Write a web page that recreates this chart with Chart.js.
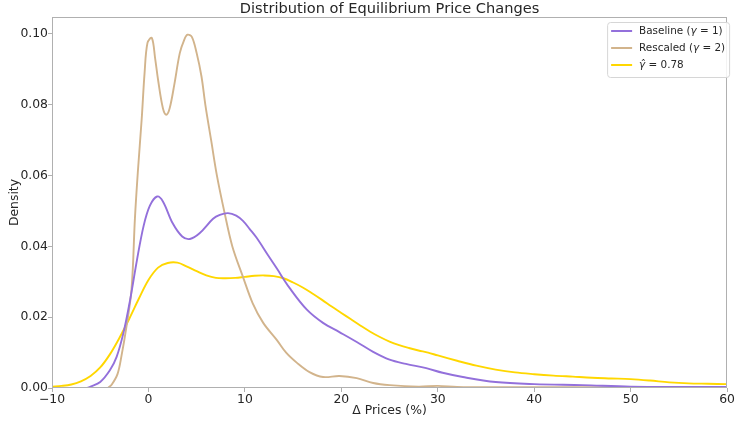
<!DOCTYPE html>
<html>
<head>
<meta charset="utf-8">
<script src="https://cdn.jsdelivr.net/npm/chart.js@4/dist/chart.umd.min.js"></script>
<style>
  html, body { margin: 0; padding: 0; background: #ffffff; }
  canvas { display: block; }
</style>
</head>
<body>
<canvas id="chart" width="735" height="423"></canvas>
<script>
// Kernel density estimates of equilibrium price changes (%), one curve per scenario.
const baselineX = [-6.4, -6, -5, -4, -3.3, -2.6, -1.9, -1.2, -0.5, 0.15, 0.9, 1.5, 2.5, 3.5, 4.3, 5.3, 6.7, 7.4, 8.25, 9.1, 9.8, 10.5, 11.2, 12.4, 13.3, 14.65, 16.4, 18.1, 19.8, 21.6, 23.3, 25, 26.7, 28.8, 30.5, 32.6, 36, 40, 45, 50, 55, 60];
const baselineDensity = [0, 0.0004, 0.0017, 0.005, 0.0088, 0.0155, 0.0249, 0.036, 0.0458, 0.0515, 0.0541, 0.0527, 0.0466, 0.0428, 0.0421, 0.0437, 0.0478, 0.0489, 0.0494, 0.0487, 0.0472, 0.0449, 0.0425, 0.0375, 0.0338, 0.0282, 0.0222, 0.0184, 0.0158, 0.013, 0.0102, 0.008, 0.0068, 0.0056, 0.0043, 0.0031, 0.0017, 0.0011, 0.0008, 0.0004, 0.0003, 0.0003];

const rescaledX = [-4.2, -3.8, -3.2, -2.8, -2.3, -1.75, -1.4, -1.1, -0.7, -0.4, -0.1, 0.35, 0.7, 1.0, 1.5, 1.85, 2.2, 2.7, 3.25, 3.7, 4.05, 4.5, 5.0, 5.5, 5.9, 6.5, 7.1, 7.9, 8.7, 9.8, 10.8, 11.9, 13.3, 14.3, 15.4, 16.7, 18.1, 19.8, 21.6, 23.3, 25, 28, 30, 32, 36, 45, 60];
const rescaledDensity = [0, 0.001, 0.004, 0.009, 0.017, 0.028, 0.048, 0.061, 0.076, 0.089, 0.0975, 0.0989, 0.093, 0.087, 0.079, 0.0772, 0.079, 0.086, 0.0946, 0.0983, 0.0998, 0.0992, 0.0946, 0.088, 0.080, 0.070, 0.060, 0.0494, 0.040, 0.0314, 0.024, 0.0184, 0.0136, 0.0099, 0.0071, 0.0045, 0.0031, 0.0034, 0.0028, 0.0014, 0.0008, 0.0004, 0.0006, 0.0003, 0.0002, 0.0002, 0.0001];

const gammaHatX = [-10, -9, -8, -7, -6, -5, -4, -3, -2, -1, 0, 1, 2, 3, 4, 5, 6, 7, 8, 9, 10, 11, 12, 13, 14, 15, 16, 17, 18, 19, 20, 21, 22, 23, 24, 25, 26, 27, 28, 29, 30, 32, 34, 36, 38, 40, 42, 44, 46, 48, 50, 52, 54, 56, 58, 60];
const gammaHatDensity = [0.0004, 0.0006, 0.001, 0.0019, 0.0034, 0.0058, 0.0095, 0.0142, 0.0195, 0.0252, 0.0305, 0.034, 0.0353, 0.0354, 0.0343, 0.033, 0.0318, 0.0311, 0.031, 0.0311, 0.0314, 0.0317, 0.0318, 0.0316, 0.031, 0.0298, 0.0284, 0.0267, 0.0249, 0.023, 0.0212, 0.0194, 0.0176, 0.0159, 0.0144, 0.0131, 0.0121, 0.0113, 0.0106, 0.01, 0.0092, 0.0077, 0.0063, 0.0052, 0.0044, 0.0039, 0.0035, 0.0032, 0.0029, 0.0027, 0.0025, 0.0021, 0.0016, 0.0013, 0.0012, 0.0011];

const xTicks = [-10, 0, 10, 20, 30, 40, 50, 60];
const yTicks = [0, 0.02, 0.04, 0.06, 0.08, 0.10];

const seriesLabels = ['Baseline (γ = 1)', 'Rescaled (γ = 2)', 'γ\u0302 = 0.78'];
const seriesColors = ['#9370DB', '#D2B48C', '#FFD700'];

const FONT = '"DejaVu Sans", sans-serif';
const TEXT = '#262626';
const SPINE = '#b0b0b0';

function toPoints(xs, ys) {
  return xs.map((x, i) => ({ x: x, y: ys[i] }));
}

// Box around the plotting area, drawn above the curves.
const frame = {
  id: 'frame',
  afterDatasetsDraw(chart) {
    const { ctx, chartArea: a } = chart;
    ctx.save();
    ctx.strokeStyle = SPINE;
    ctx.lineWidth = 1;
    ctx.strokeRect(Math.round(a.left) + 0.5, Math.round(a.top) + 0.5,
                   Math.round(a.right - a.left) - 1, Math.round(a.bottom - a.top) - 1);
    ctx.restore();
  }
};

// Legend box in the upper-right corner with the Greek letters set in italics.
const cornerLegend = {
  id: 'cornerLegend',
  afterDraw(chart) {
    const { ctx, chartArea: a } = chart;
    const boxRight = a.right + 2, boxTop = a.top + 5;
    const boxLeft = boxRight - 122, boxBottom = boxTop + 55;
    ctx.save();
    ctx.beginPath();
    ctx.roundRect(boxLeft + 0.5, boxTop + 0.5, boxRight - boxLeft, boxBottom - boxTop, 3);
    ctx.fillStyle = 'rgba(255,255,255,0.85)';
    ctx.fill();
    ctx.strokeStyle = '#d6d6d6';
    ctx.lineWidth = 1;
    ctx.stroke();
    chart.data.datasets.forEach((ds, i) => {
      const y = boxTop + 9 + i * 17;
      ctx.strokeStyle = ds.borderColor;
      ctx.lineWidth = 2;
      ctx.beginPath();
      ctx.moveTo(boxLeft + 4, y);
      ctx.lineTo(boxLeft + 25, y);
      ctx.stroke();
      let x = boxLeft + 32;
      ctx.fillStyle = TEXT;
      ctx.textBaseline = 'middle';
      ctx.textAlign = 'left';
      const parts = ds.label.split(/(γ\u0302?)/).filter(s => s.length);
      parts.forEach(p => {
        ctx.font = (p.startsWith('γ') ? 'italic ' : '') + '10.4px ' + FONT;
        ctx.fillText(p, x, y);
        x += ctx.measureText(p).width;
      });
    });
    ctx.restore();
  }
};

const datasets = [
  { label: seriesLabels[0], data: toPoints(baselineX, baselineDensity), borderColor: seriesColors[0] },
  { label: seriesLabels[1], data: toPoints(rescaledX, rescaledDensity), borderColor: seriesColors[1] },
  { label: seriesLabels[2], data: toPoints(gammaHatX, gammaHatDensity), borderColor: seriesColors[2] }
].map(d => Object.assign(d, {
  borderWidth: 1.9,
  pointRadius: 0,
  fill: false,
  tension: 0.35
}));

new Chart(document.getElementById('chart'), {
  type: 'line',
  data: { datasets: datasets },
  options: {
    responsive: false,
    animation: false,
    devicePixelRatio: 1,
    layout: { padding: { left: 0, right: 7, top: 0, bottom: 0 } },
    plugins: {
      legend: { display: false },
      tooltip: { enabled: false },
      title: {
        display: true,
        text: 'Distribution of Equilibrium Price Changes',
        fullSize: false,
        color: TEXT,
        font: { family: FONT, size: 14.6, weight: 'normal', lineHeight: 1.0 },
        padding: { top: 2.4, bottom: 0 }
      }
    },
    scales: {
      x: {
        type: 'linear',
        min: -10,
        max: 60,
        afterBuildTicks(scale) { scale.ticks = xTicks.map(v => ({ value: v })); },
        afterFit(scale) { scale.height = 35; },
        grid: { drawOnChartArea: false, drawTicks: true, tickLength: 4, tickColor: SPINE },
        border: { display: false },
        ticks: {
          color: TEXT,
          padding: 0,
          maxRotation: 0,
          font: { family: FONT, size: 12.4 },
          callback: v => (v < 0 ? '\u2212' + Math.abs(v) : String(v))
        },
        title: {
          display: true,
          text: 'Δ Prices (%)',
          color: TEXT,
          font: { family: FONT, size: 12.4 },
          padding: { top: 0, bottom: 5 }
        }
      },
      y: {
        type: 'linear',
        min: 0,
        max: 0.1048,
        afterBuildTicks(scale) { scale.ticks = yTicks.map(v => ({ value: v })); },
        afterFit(scale) { scale.width = 52; },
        grid: { drawOnChartArea: false, drawTicks: true, tickLength: 4, tickColor: SPINE },
        border: { display: false },
        ticks: {
          color: TEXT,
          padding: 0,
          font: { family: FONT, size: 12.4 },
          callback: v => v.toFixed(2)
        },
        title: {
          display: true,
          text: 'Density',
          color: TEXT,
          font: { family: FONT, size: 12.4 },
          padding: { top: 7, bottom: 0 }
        }
      }
    }
  },
  plugins: [frame, cornerLegend]
});
</script>
</body>
</html>
